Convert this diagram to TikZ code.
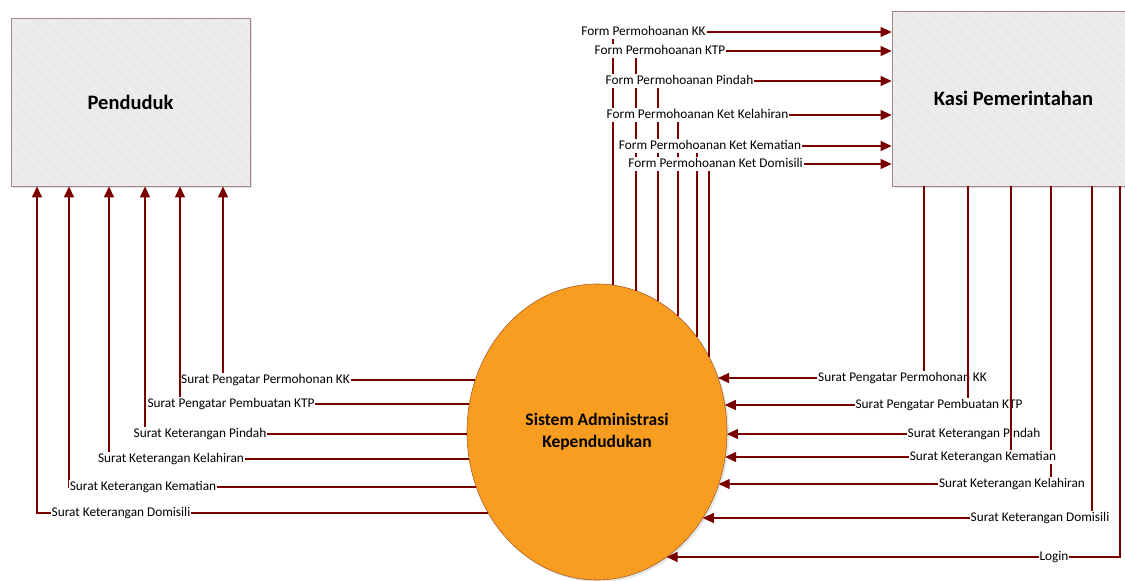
\documentclass[tikz,border=0pt]{standalone}
\usepackage{fontspec}
\setmainfont{Carlito}
\usetikzlibrary{arrows.meta,shapes.geometric,shadows,patterns.meta,calc}

\definecolor{flowred}{RGB}{122,0,0}
\definecolor{boxgray}{RGB}{234,234,234}
\definecolor{hatchgray}{RGB}{243,243,243}
\definecolor{boxline}{RGB}{165,135,135}
\definecolor{procorange}{RGB}{248,157,32}
\definecolor{procline}{RGB}{170,95,45}

\begin{document}
\begin{tikzpicture}[x=1pt, y=-1pt,
    entity/.style = {drop shadow={shadow xshift=2pt, shadow yshift=-2pt, opacity=0.25},
        preaction={fill=boxgray},
        preaction={pattern={Lines[angle=-45,distance=8pt,line width=0.8pt]}, pattern color=hatchgray},
        draw=boxline, line width=0.8pt, inner sep=0pt,
        font=\fontsize{20.5}{24}\selectfont\bfseries},
    process/.style = {draw=procline, line width=0.6pt, fill=procorange, ellipse, inner sep=0pt,
        minimum width=260pt, minimum height=296pt, align=center,
        drop shadow={shadow xshift=2pt, shadow yshift=-2pt, opacity=0.2},
        font=\fontsize{17.5}{22}\selectfont\bfseries},
    flow/.style = {draw=flowred, line width=1.2pt, -{Triangle[length=11pt, width=10pt]}},
    lbl/.style = {fill=white, inner sep=1pt, text height=9pt, text depth=3pt,
        font=\fontsize{13.3}{16}\selectfont}]
    \useasboundingbox (0,0) rectangle (1125,581);

    % external entities and the process
    \node[entity, minimum width=239pt, minimum height=168pt] (pdd) at (130.5,102) {Penduduk};
    \node[entity, minimum width=243pt, minimum height=175pt] (ksi) at (1013.5,98.5) {Kasi Pemerintahan};
    \node[process] (sad) at (597,432) {Sistem Administrasi\\Kependudukan};

    % points on the rim of the process
    \foreach \n/\dx in {t1/16, t2/39, t3/61, t4/81, t5/100, t6/112}
        \coordinate (\n) at ($(sad.center)+(\dx,{-148*sqrt(1-(\dx/130)*(\dx/130))})$);
    \foreach \n/\dy in {r1/-54, r2/-27, r3/2, r4/25, r5/52, r6/86, r7/125}
        \coordinate (\n) at ($(sad.center)+({130*sqrt(1-(\dy/148)*(\dy/148))},\dy)$);
    \foreach \n/\dy in {l1/-52, l2/-28, l3/2, l4/27, l5/55, l6/81}
        \coordinate (\n) at ($(sad.center)+({-130*sqrt(1-(\dy/148)*(\dy/148))},\dy)$);

    % forms to Kasi Pemerintahan
    \draw[flow] (t1) |- (ksi.west |- 0,32);
    \draw[flow] (t2) |- (ksi.west |- 0,51);
    \draw[flow] (t3) |- (ksi.west |- 0,81);
    \draw[flow] (t4) |- (ksi.west |- 0,115);
    \draw[flow] (t5) |- (ksi.west |- 0,146);
    \draw[flow] (t6) |- (ksi.west |- 0,164);
    \node[lbl] (fkk)  at (643.5,32)  {Form Permohoanan KK};
    \node[lbl] (fktp) at (660,51)    {Form Permohoanan KTP};
    \node[lbl] (fpdh) at (679.5,81)  {Form Permohoanan Pindah};
    \node[lbl] (fkel) at (697.5,115) {Form Permohoanan Ket Kelahiran};
    \node[lbl] (fkem) at (710,146)   {Form Permohoanan Ket Kematian};
    \node[lbl] (fdom) at (715.5,164) {Form Permohoanan Ket Domisili};

    % letters back from Kasi Pemerintahan
    \draw[flow] (ksi.south -| 924,0) |- (r1);
    \node[lbl] (kspkk) at (902.5,378) {Surat Pengatar Permohonan KK};
    \draw[flow] (ksi.south -| 968,0) |- (r2);
    \node[lbl] (ksktp) at (939,405) {Surat Pengatar Pembuatan KTP};
    \draw[flow] (ksi.south -| 1011,0) |- (r3);
    \node[lbl] (kspdh) at (974,434) {Surat Keterangan Pindah};
    \draw[flow] (ksi.south -| 1051,0) |- (r5);
    \draw[flow] (ksi.south -| 1011,0) |- (r4);
    \node[lbl] (kskem) at (983,457) {Surat Keterangan Kematian};
    \node[lbl] (kskel) at (1012,484) {Surat Keterangan Kelahiran};
    \draw[flow] (ksi.south -| 1092,0) |- (r6);
    \node[lbl] (ksdom) at (1040,518) {Surat Keterangan Domisili};
    \draw[flow] (ksi.south -| 1120,0) |- (r7);
    \node[lbl] (login) at (1054,557) {Login};

    % letters to Penduduk
    \draw[flow] (l1) -| (pdd.south -| 223,0);
    \node[lbl] (pspkk) at (265.5,380) {Surat Pengatar Permohonan KK};
    \draw[flow] (l2) -| (pdd.south -| 180,0);
    \node[lbl] (psktp) at (231,404) {Surat Pengatar Pembuatan KTP};
    \draw[flow] (l3) -| (pdd.south -| 145,0);
    \node[lbl] (pspdh) at (200,434) {Surat Keterangan Pindah};
    \draw[flow] (l4) -| (pdd.south -| 109,0);
    \node[lbl] (pskel) at (171,459) {Surat Keterangan Kelahiran};
    \draw[flow] (l5) -| (pdd.south -| 69,0);
    \node[lbl] (pskem) at (143,487) {Surat Keterangan Kematian};
    \draw[flow] (l6) -| (pdd.south -| 37,0);
    \node[lbl] (psdom) at (121,513) {Surat Keterangan Domisili};
\end{tikzpicture}
\end{document}
